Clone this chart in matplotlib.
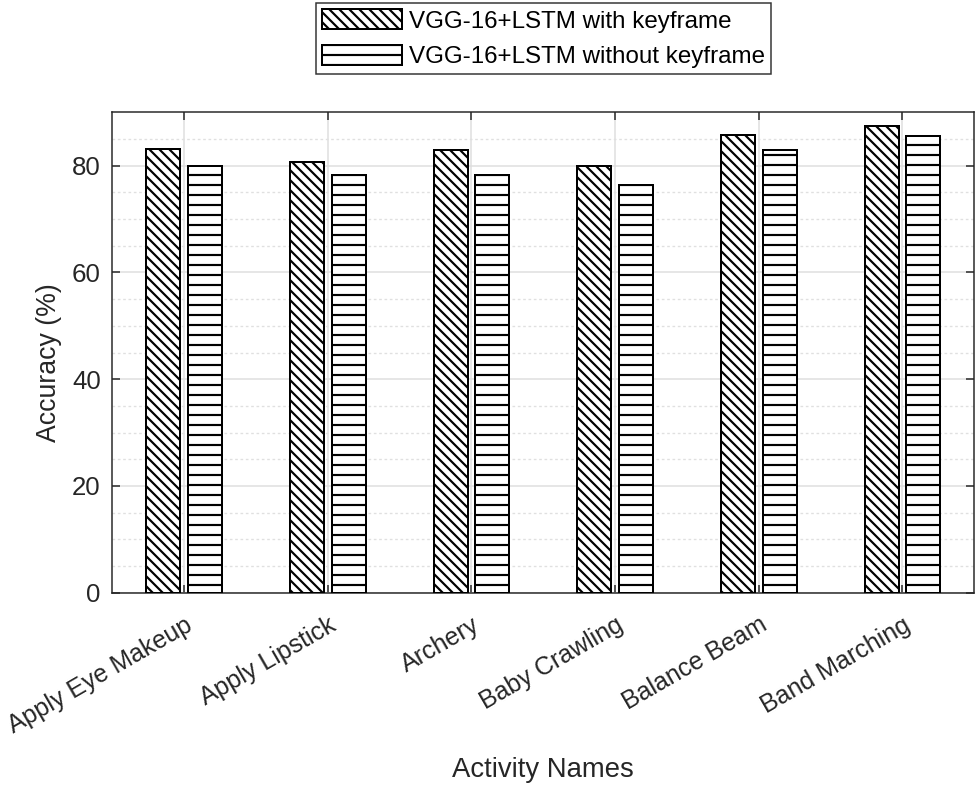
import numpy as np
import matplotlib
matplotlib.use('Agg')
import matplotlib.pyplot as plt
import matplotlib.transforms as mtransforms

# data
activities = ['Apply Eye Makeup', 'Apply Lipstick', 'Archery',
              'Baby Crawling', 'Balance Beam', 'Band Marching']
with_keyframe = [83.2, 80.7, 82.9, 80.0, 85.7, 87.4]
without_keyframe = [79.9, 78.2, 78.2, 76.4, 82.9, 85.5]
series_names = ['VGG-16+LSTM with keyframe', 'VGG-16+LSTM without keyframe']
y_ticks = [0, 20, 40, 60, 80]
y_minor = [5, 10, 15, 25, 30, 35, 45, 50, 55, 65, 70, 75, 85]

plt.rcParams['font.family'] = ['Liberation Sans', 'DejaVu Sans']
plt.rcParams['hatch.linewidth'] = 1.3
plt.rcParams['hatch.color'] = 'black'

fig = plt.figure(figsize=(980 / 120, 786 / 120), dpi=120)
ax = fig.add_axes([0.1146, 0.2459, 0.8796, 0.6112])

x = np.arange(1, len(activities) + 1)
width = 0.235
off = 0.145

# 4 backslashes -> diagonal spacing about the same as the 2-dash horizontal hatch
b1 = ax.bar(x - off, with_keyframe, width, facecolor='white', edgecolor='black',
            hatch='\\\\\\\\', linewidth=1.2, label=series_names[0], zorder=3)
b2 = ax.bar(x + off, without_keyframe, width, facecolor='white', edgecolor='black',
            hatch='--', linewidth=1.2, label=series_names[1], zorder=3)

ax.set_xlim(0.5, 6.5)
ax.set_ylim(0, 90)
ax.set_xticks(x)
ax.set_xticklabels(activities, rotation=30, ha='right', rotation_mode='anchor',
                   va='top', fontsize=15)
shift = mtransforms.ScaledTranslation(9 / 120, -3 / 120, fig.dpi_scale_trans)
for lbl in ax.get_xticklabels():
    lbl.set_transform(lbl.get_transform() + shift)

ax.set_yticks(y_ticks)
ax.set_yticks(y_minor, minor=True)
ax.tick_params(axis='both', which='both', direction='in', top=True, right=True,
               colors='#262626', labelcolor='#262626')
ax.tick_params(axis='both', which='major', length=5, width=0.9)
ax.tick_params(axis='y', which='minor', length=0)
ax.tick_params(axis='y', which='major', labelsize=15.5, pad=7)
ax.tick_params(axis='x', which='major', pad=12)

ax.grid(True, which='major', color='#dedede', linewidth=0.9, zorder=0)
ax.grid(True, which='minor', axis='y', color='#e0e0e0', linestyle=(0, (2, 2)),
        linewidth=0.8, zorder=0)
ax.set_axisbelow(True)
for s in ax.spines.values():
    s.set_color('#262626')
    s.set_linewidth(0.9)

ax.set_xlabel('Activity Names', fontsize=16.5, color='#262626')
ax.xaxis.set_label_coords(0.5, -0.341)
ax.set_ylabel('Accuracy (%)', fontsize=16, color='#262626')
ax.yaxis.set_label_coords(-0.058, 0.479)

leg = fig.legend(handles=[b1, b2], loc='upper center', bbox_to_anchor=(0.5546, 0.996),
                 fontsize=14.5, frameon=True, fancybox=False, edgecolor='black',
                 handlelength=3.3, handleheight=0.9, handletextpad=0.3,
                 labelspacing=0.5, borderpad=0.25, borderaxespad=0)
leg.get_frame().set_linewidth(0.9)

fig.savefig('out.png', dpi=120)
